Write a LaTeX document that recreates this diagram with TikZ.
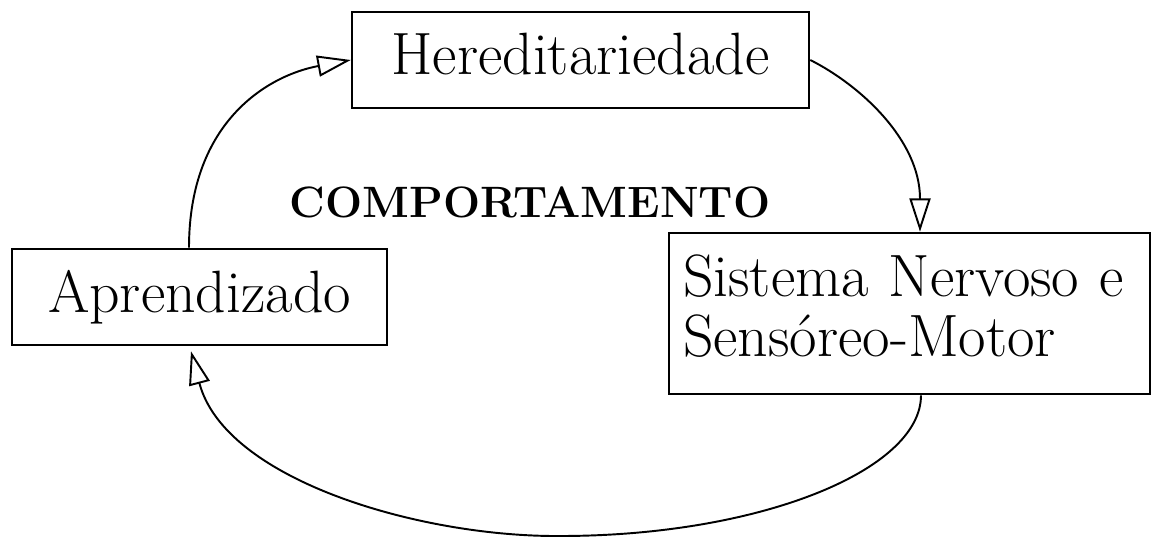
\documentclass[tikz,border=0pt]{standalone}
\usetikzlibrary{arrows.meta}
\begin{document}
\begin{tikzpicture}[x=0.02cm,y=-0.02cm,
  box/.style={draw, line width=1.5pt, inner sep=0pt, font=\fontsize{34}{34}\selectfont},
  onebox/.style={box, text height=0.75cm, text depth=0.15cm},
  arr/.style={line width=1.1pt, -{Triangle[open, length=19pt, width=12pt, line width=1.1pt]}},
  title/.style={font=\fontsize{25}{30}\selectfont\bfseries}]
\useasboundingbox (0,0) rectangle (1155,537);
\node[onebox, minimum width=9.14cm, minimum height=1.92cm] (her) at (580.5,60) {Hereditariedade};
\node[onebox, minimum width=7.5cm, minimum height=1.92cm] (apr) at (199.5,297) {Aprendizado};
\node[box, minimum width=9.62cm, minimum height=3.22cm, inner xsep=0.28cm, text width=9.06cm, text height=0.81cm, text depth=1.48cm, align=left] (sn) at (909.5,313.5) {Sistema Nervoso e\\Sensóreo-Motor};
\node[title, anchor=base] (comp) at (530,217) {COMPORTAMENTO};
\coordinate (bot) at (560,536);
\draw[arr] (her.east) .. controls (860,85) and (920,140) .. ([xshift=0.21cm]sn.north);
\draw[arr] ([xshift=0.23cm]sn.south) .. controls (921,470) and (760,536) .. (bot)
  .. controls (420,537) and (225,480) .. ([xshift=-0.17cm,yshift=-0.1cm]apr.south);
\draw[arr] ([xshift=-0.21cm]apr.north) .. controls (189,120) and (270,75) .. (her.west);
\end{tikzpicture}
\end{document}
